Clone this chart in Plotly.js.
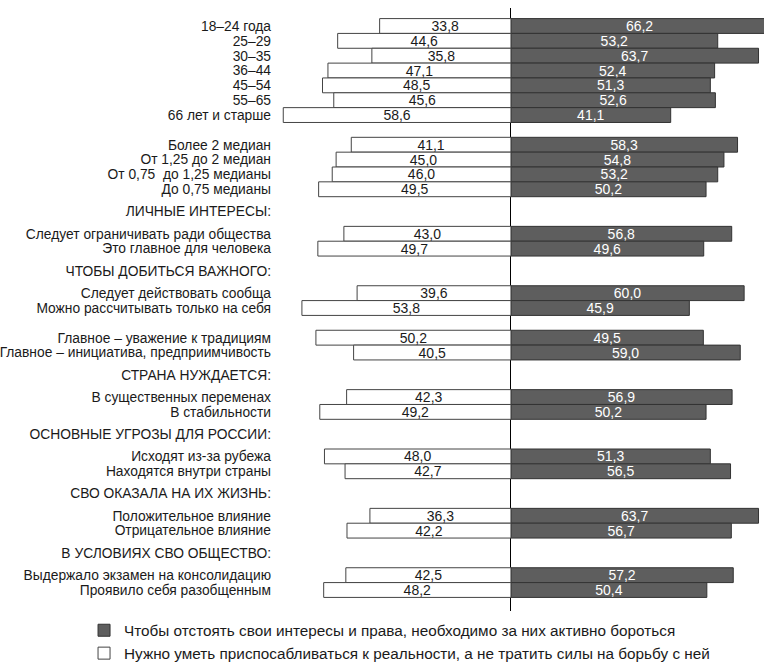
<!DOCTYPE html>
<html>
<head>
<meta charset="utf-8">
<script src="https://cdn.plot.ly/plotly-3.0.1.min.js"></script>
<style>
  html, body { margin: 0; padding: 0; background: #fff; }
  #chart { width: 764px; height: 665px; }
</style>
</head>
<body>
<div id="chart"></div>
<script>
// ---- data ----
const categories = [
  '18–24 года', '25–29', '30–35', '36–44', '45–54', '55–65', '66 лет и старше',
  'Более 2 медиан', 'От 1,25 до 2 медиан', 'От 0,75  до 1,25 медианы', 'До 0,75 медианы',
  'Следует ограничивать ради общества', 'Это главное для человека',
  'Следует действовать сообща', 'Можно рассчитывать только на себя',
  'Главное – уважение к традициям', 'Главное – инициатива, предприимчивость',
  'В существенных переменах', 'В стабильности',
  'Исходят из-за рубежа', 'Находятся внутри страны',
  'Положительное влияние', 'Отрицательное влияние',
  'Выдержало экзамен на консолидацию', 'Проявило себя разобщенным'
];
const groupSizes = [7, 4, 2, 2, 2, 2, 2, 2, 2];
const groupHeaders = ['', '', 'ЛИЧНЫЕ ИНТЕРЕСЫ:', 'ЧТОБЫ ДОБИТЬСЯ ВАЖНОГО:', '',
  'СТРАНА НУЖДАЕТСЯ:', 'ОСНОВНЫЕ УГРОЗЫ ДЛЯ РОССИИ:', 'СВО ОКАЗАЛА НА ИХ ЖИЗНЬ:',
  'В УСЛОВИЯХ СВО ОБЩЕСТВО:'];
const fightValues = [66.2, 53.2, 63.7, 52.4, 51.3, 52.6, 41.1,
  58.3, 54.8, 53.2, 50.2,
  56.8, 49.6, 60.0, 45.9, 49.5, 59.0, 56.9, 50.2, 51.3, 56.5, 63.7, 56.7, 57.2, 50.4];
const adaptValues = [33.8, 44.6, 35.8, 47.1, 48.5, 45.6, 58.6,
  41.1, 45.0, 46.0, 49.5,
  43.0, 49.7, 39.6, 53.8, 50.2, 40.5, 42.3, 49.2, 48.0, 42.7, 36.3, 42.2, 42.5, 48.2];
const seriesNames = [
  'Чтобы отстоять свои интересы и права, необходимо за них активно бороться',
  'Нужно уметь приспосабливаться к реальности, а не тратить силы на борьбу с ней'
];

// ---- row slots from group structure ----
const rowPos = [];
const tickVals = [];
const tickText = [];
let slot = 0, idx = 0;
groupSizes.forEach((n, g) => {
  if (g > 0) slot += groupHeaders[g] ? 2 : 1;
  if (groupHeaders[g]) { tickVals.push(slot - 1.5); tickText.push(groupHeaders[g]); }
  for (let i = 0; i < n; i++) {
    rowPos.push(slot);
    tickVals.push(slot);
    tickText.push(categories[idx]);
    slot++; idx++;
  }
});

const fmt = v => v.toFixed(1).replace('.', ',');
const FONT = '"Liberation Sans", Arial, sans-serif';

const traces = [
  {
    type: 'bar', orientation: 'h', name: seriesNames[0],
    y: rowPos, x: fightValues, width: 1,
    text: fightValues.map(fmt), textposition: 'inside', insidetextanchor: 'middle',
    constraintext: 'none', textangle: 0,
    textfont: { family: FONT, size: 14, color: '#ffffff' },
    marker: { color: '#5e5e5e', line: { color: '#333333', width: 1 } },
    hoverinfo: 'skip'
  },
  {
    type: 'bar', orientation: 'h', name: seriesNames[1],
    y: rowPos, x: adaptValues.map(v => -v), width: 1,
    text: adaptValues.map(fmt), textposition: 'inside', insidetextanchor: 'middle',
    constraintext: 'none', textangle: 0,
    textfont: { family: FONT, size: 14, color: '#1a1a1a' },
    marker: { color: '#ffffff', line: { color: '#444444', width: 1 } },
    hoverinfo: 'skip'
  }
];

const layout = {
  width: 764, height: 665,
  margin: { l: 280, r: 0, t: 8, b: 54, autoexpand: false },
  paper_bgcolor: '#ffffff', plot_bgcolor: '#ffffff',
  barmode: 'relative', bargap: 0,
  font: { family: FONT, size: 13.8, color: '#1a1a1a' },
  showlegend: true,
  legend: {
    xref: 'container', yref: 'container',
    x: 0.11, xanchor: 'left', y: 0.077, yanchor: 'top',
    orientation: 'v', traceorder: 'normal',
    font: { family: FONT, size: 15.3, color: '#1a1a1a' },
    itemclick: false, itemdoubleclick: false, tracegroupgap: 0
  },
  xaxis: {
    range: [-59.44, 65.11],
    showticklabels: false, showgrid: false, ticks: '',
    zeroline: true, zerolinecolor: '#000000', zerolinewidth: 1,
    showline: false, fixedrange: true, automargin: false
  },
  yaxis: {
    range: [39.415, -1.213],
    tickmode: 'array', tickvals: tickVals, ticktext: tickText,
    ticks: '', ticklabelstandoff: 8,
    showgrid: false, zeroline: false, showline: false,
    tickfont: { family: FONT, size: 13.8, color: '#1a1a1a' },
    fixedrange: true, automargin: false
  }
};

Plotly.newPlot('chart', traces, layout, { displayModeBar: false, staticPlot: true });
</script>
</body>
</html>
